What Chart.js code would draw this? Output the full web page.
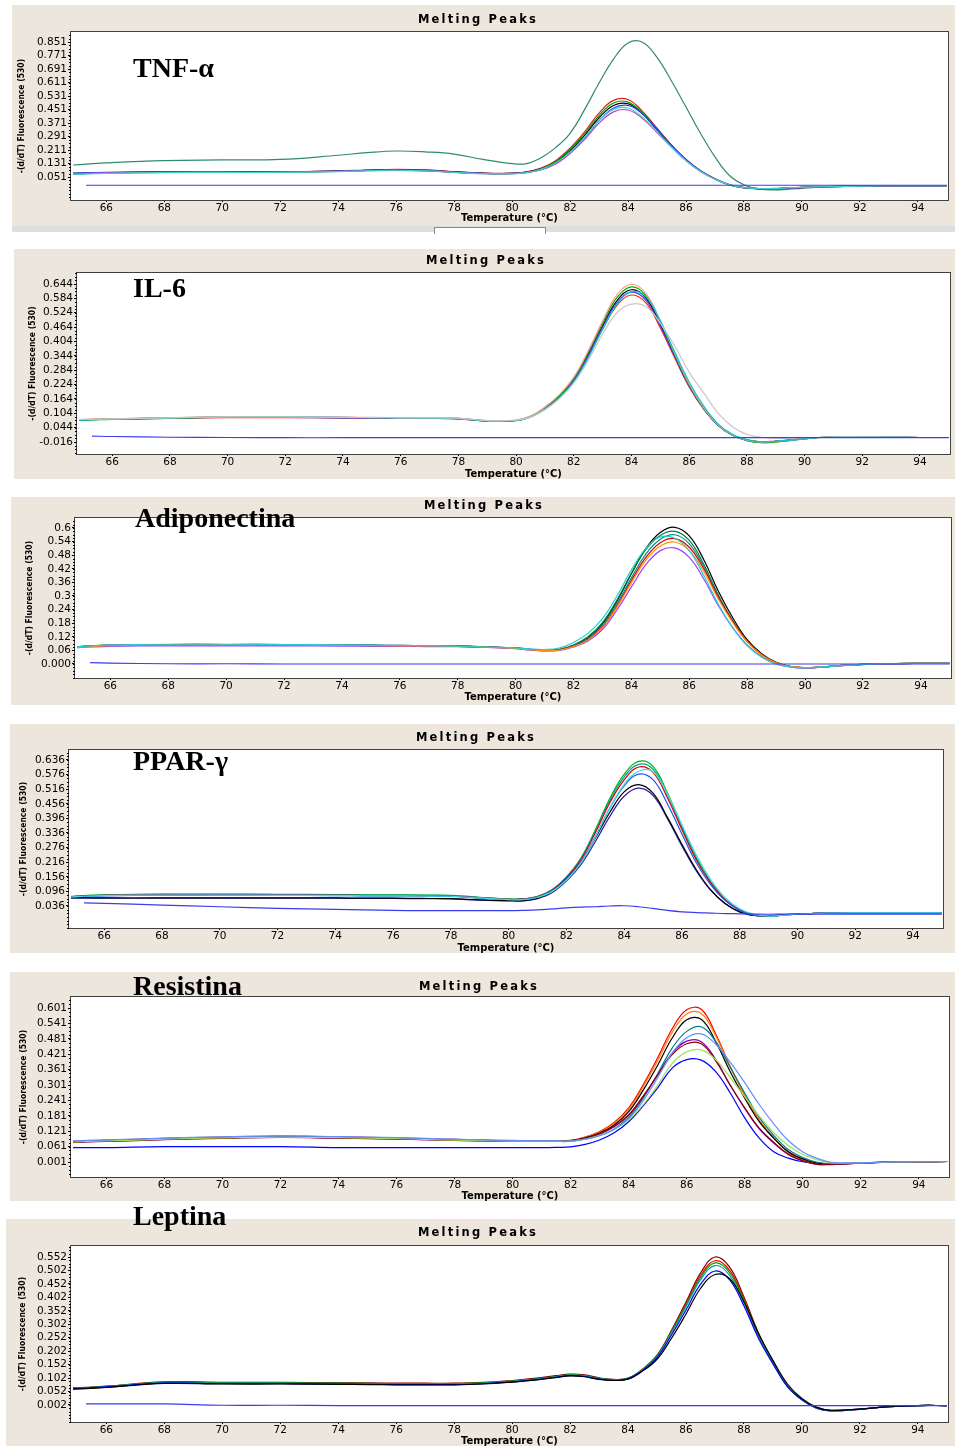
<!DOCTYPE html>
<html>
<head>
<meta charset="utf-8">
<script src="https://cdn.jsdelivr.net/npm/chart.js@4.4.1/dist/chart.umd.min.js"></script>
<style>
body { margin:0; background:#fff; width:956px; height:1446px; position:relative; overflow:hidden; }
.panel { position:absolute; background:#ECE6DC; }
.panel canvas { position:absolute; left:0; top:0; }
.title { position:absolute; font:bold 11.5px "DejaVu Sans"; letter-spacing:2.2px; line-height:11px; transform:translate(-50%,-50%); white-space:nowrap; color:#000; }
.gene { position:absolute; font:bold 28px "Liberation Serif"; line-height:28px; white-space:nowrap; color:#000; }
</style>
</head>
<body>
<script>
// temperature grid (°C) shared by all curves
const temps = [64.85,65.3,66,68,70,72,74,75,76,77,78,79,80,
  80.5,81,81.5,82,82.5,83,83.5,84,84.5,85,85.5,86,86.5,
  87,87.5,88,88.5,89,89.5,90,90.5,91,92,93,94,95];
const xTicks = [66,68,70,72,74,76,78,80,82,84,86,88,90,92,94];

// ---- TNF-alpha ----
const tnfTicks = ["0.051","0.131","0.211","0.291","0.371","0.451","0.531","0.611","0.691","0.771","0.851"];
const tnfA = [0.070,0.073,0.076,0.082,0.083,0.082,0.087,0.092,0.096,0.093,0.083,0.075,0.074,
  0.082,0.104,0.148,0.222,0.318,0.430,0.505,0.510,0.440,0.340,0.240,0.155,0.088,
  0.040,0.005,-0.013,-0.019,-0.019,-0.016,-0.012,-0.008,-0.006,-0.003,-0.001,0.000,0.000];
const tnfB = [0.068,0.071,0.074,0.079,0.080,0.080,0.085,0.090,0.093,0.090,0.080,0.072,0.071,
  0.079,0.100,0.142,0.214,0.307,0.415,0.490,0.495,0.430,0.333,0.236,0.152,0.086,
  0.039,0.004,-0.013,-0.019,-0.019,-0.015,-0.011,-0.008,-0.006,-0.003,-0.001,0.000,0.000];
const tnfC = [0.072,0.075,0.077,0.080,0.081,0.081,0.086,0.091,0.094,0.091,0.081,0.073,0.072,
  0.080,0.099,0.139,0.208,0.298,0.402,0.475,0.485,0.425,0.330,0.235,0.152,0.086,
  0.039,0.004,-0.012,-0.018,-0.018,-0.015,-0.011,-0.008,-0.006,-0.003,-0.001,0.000,0.000];
const tnfD = [0.074,0.076,0.078,0.081,0.082,0.082,0.086,0.090,0.092,0.089,0.080,0.073,0.072,
  0.078,0.094,0.130,0.195,0.282,0.385,0.460,0.475,0.425,0.335,0.240,0.155,0.088,
  0.040,0.005,-0.012,-0.018,-0.018,-0.015,-0.011,-0.008,-0.006,-0.003,-0.001,0.000,0.000];
const tnfE = [0.066,0.069,0.072,0.077,0.078,0.078,0.083,0.088,0.091,0.088,0.079,0.071,0.070,
  0.077,0.096,0.134,0.198,0.285,0.385,0.452,0.460,0.405,0.318,0.228,0.148,0.084,
  0.038,0.004,-0.012,-0.018,-0.018,-0.014,-0.011,-0.008,-0.006,-0.003,-0.001,0.000,0.000];
const tnfF = [0.071,0.073,0.075,0.078,0.079,0.079,0.084,0.088,0.090,0.087,0.078,0.071,0.071,
  0.077,0.094,0.128,0.190,0.273,0.370,0.437,0.448,0.398,0.315,0.228,0.148,0.085,
  0.039,0.005,-0.011,-0.017,-0.017,-0.014,-0.010,-0.007,-0.005,-0.002,-0.001,0.000,0.000];
const tnfHigh = [0.122,0.127,0.135,0.148,0.152,0.155,0.180,0.195,0.205,0.200,0.187,0.155,0.130,
  0.130,0.165,0.225,0.310,0.450,0.608,0.750,0.845,0.850,0.760,0.620,0.466,0.310,
  0.170,0.060,0.005,-0.020,-0.026,-0.022,-0.016,-0.010,-0.006,-0.002,0.000,0.000,0.000];
const tnfNeg = [null,0.002,0.002,0.002,0.002,0.002,0.002,0.002,0.002,0.002,0.002,0.002,0.002,
  0.002,0.002,0.002,0.002,0.002,0.002,0.002,0.002,0.002,0.002,0.002,0.002,0.002,
  0.002,0.002,0.002,0.002,0.002,0.002,0.002,0.002,0.002,0.002,0.002,0.002,0.002];

// ---- IL-6 ----
const ilTicks = ["-0.016","0.044","0.104","0.164","0.224","0.284","0.344","0.404","0.464","0.524","0.584","0.644"];
const ilA = [0.078,0.079,0.081,0.086,0.090,0.090,0.088,0.087,0.086,0.086,0.084,0.074,0.076,
  0.092,0.130,0.182,0.255,0.365,0.490,0.600,0.643,0.605,0.490,0.355,0.226,0.128,
  0.056,0.013,-0.008,-0.016,-0.013,-0.008,-0.002,0.003,0.005,0.005,0.004,0.003,0.003];
const ilB = [0.074,0.076,0.079,0.083,0.089,0.089,0.087,0.086,0.085,0.085,0.083,0.072,0.074,
  0.091,0.128,0.178,0.250,0.358,0.480,0.588,0.632,0.596,0.484,0.350,0.222,0.126,
  0.055,0.012,-0.010,-0.019,-0.017,-0.010,-0.003,0.003,0.005,0.005,0.004,0.003,0.003];
const ilC = [0.076,0.078,0.080,0.084,0.088,0.088,0.086,0.085,0.084,0.084,0.082,0.072,0.074,
  0.090,0.125,0.175,0.245,0.350,0.470,0.575,0.620,0.585,0.475,0.345,0.220,0.125,
  0.055,0.013,-0.008,-0.016,-0.013,-0.008,-0.002,0.003,0.005,0.005,0.004,0.003,0.003];
const ilD = [0.075,0.077,0.079,0.085,0.087,0.087,0.085,0.084,0.083,0.083,0.081,0.071,0.073,
  0.090,0.124,0.173,0.242,0.345,0.463,0.565,0.610,0.576,0.468,0.340,0.217,0.123,
  0.054,0.012,-0.009,-0.016,-0.013,-0.008,-0.002,0.003,0.005,0.005,0.004,0.003,0.003];
const ilE = [0.077,0.079,0.081,0.083,0.086,0.086,0.085,0.084,0.083,0.083,0.081,0.072,0.074,
  0.089,0.122,0.170,0.238,0.340,0.455,0.555,0.598,0.565,0.460,0.335,0.214,0.122,
  0.054,0.013,-0.007,-0.015,-0.012,-0.007,-0.001,0.003,0.005,0.005,0.004,0.003,0.003];
const ilF = [0.075,0.077,0.080,0.085,0.088,0.089,0.087,0.086,0.085,0.084,0.082,0.073,0.074,
  0.088,0.120,0.168,0.235,0.335,0.455,0.560,0.612,0.590,0.490,0.360,0.235,0.135,
  0.060,0.016,-0.006,-0.015,-0.013,-0.008,-0.002,0.003,0.005,0.005,0.004,0.003,0.003];
const ilGrey = [0.078,0.079,0.081,0.085,0.089,0.089,0.087,0.086,0.085,0.085,0.083,0.073,0.075,
  0.088,0.120,0.165,0.230,0.325,0.435,0.525,0.560,0.550,0.480,0.385,0.275,0.190,
  0.105,0.048,0.016,0.004,0.000,0.000,0.002,0.004,0.005,0.005,0.004,0.003,0.003];
const ilNeg = [null,0.009,0.007,0.004,0.003,0.002,0.002,0.002,0.002,0.002,0.002,0.002,0.002,
  0.002,0.002,0.002,0.002,0.002,0.002,0.002,0.002,0.002,0.002,0.002,0.002,0.002,
  0.002,0.002,0.002,0.002,0.002,0.002,0.002,0.002,0.002,0.002,0.002,0.002,0.002];

// ---- Adiponectina ----
const adTicks = ["0.000","0.06","0.12","0.18","0.24","0.3","0.36","0.42","0.48","0.54","0.6"];
const adA = [0.076,0.079,0.083,0.086,0.086,0.086,0.084,0.083,0.082,0.081,0.080,0.076,0.071,
  0.065,0.061,0.063,0.082,0.116,0.177,0.277,0.398,0.510,0.580,0.603,0.565,0.460,
  0.322,0.204,0.107,0.045,0.007,-0.011,-0.016,-0.014,-0.009,-0.002,0.002,0.003,0.003];
const adB = [0.074,0.078,0.082,0.085,0.085,0.085,0.083,0.082,0.081,0.080,0.079,0.075,0.070,
  0.065,0.061,0.064,0.084,0.120,0.182,0.282,0.400,0.505,0.567,0.585,0.545,0.440,
  0.305,0.190,0.100,0.040,0.005,-0.012,-0.017,-0.015,-0.009,-0.002,0.002,0.003,0.003];
const adC = [0.075,0.079,0.082,0.085,0.085,0.085,0.083,0.082,0.081,0.080,0.079,0.075,0.070,
  0.064,0.060,0.062,0.080,0.112,0.170,0.265,0.380,0.485,0.550,0.570,0.530,0.430,
  0.300,0.190,0.100,0.042,0.006,-0.011,-0.016,-0.014,-0.009,-0.002,0.002,0.003,0.003];
const adD = [0.077,0.080,0.083,0.084,0.084,0.084,0.082,0.081,0.080,0.079,0.078,0.074,0.069,
  0.063,0.059,0.062,0.078,0.108,0.163,0.256,0.368,0.470,0.535,0.553,0.515,0.420,
  0.295,0.188,0.100,0.042,0.006,-0.011,-0.016,-0.014,-0.009,-0.002,0.002,0.003,0.003];
const adE = [0.073,0.077,0.081,0.084,0.084,0.084,0.082,0.081,0.080,0.080,0.078,0.074,0.069,
  0.063,0.059,0.061,0.077,0.106,0.160,0.250,0.358,0.458,0.520,0.538,0.500,0.408,
  0.287,0.183,0.097,0.040,0.005,-0.012,-0.016,-0.014,-0.009,-0.002,0.002,0.003,0.003];
const adF = [0.072,0.075,0.078,0.080,0.080,0.080,0.079,0.078,0.078,0.077,0.076,0.073,0.068,
  0.062,0.058,0.060,0.075,0.102,0.152,0.238,0.340,0.438,0.500,0.512,0.470,0.375,
  0.258,0.160,0.083,0.032,0.000,-0.014,-0.018,-0.015,-0.010,-0.003,0.002,0.003,0.003];
const adG = [0.076,0.080,0.084,0.087,0.087,0.086,0.084,0.083,0.082,0.081,0.079,0.075,0.071,
  0.066,0.064,0.070,0.095,0.135,0.200,0.300,0.415,0.510,0.560,0.555,0.500,0.390,
  0.265,0.160,0.080,0.030,0.000,-0.013,-0.017,-0.014,-0.009,-0.002,0.002,0.003,0.003];
const adNeg = [null,0.006,0.004,0.001,0.001,0.000,0.000,0.000,0.000,0.000,0.000,0.000,0.000,
  0.000,0.000,0.000,0.000,0.000,0.000,0.000,0.000,0.000,0.000,0.000,0.000,0.000,
  0.000,0.000,0.000,0.000,0.000,0.000,0.000,0.000,0.000,0.000,0.000,0.000,0.000];

// ---- PPAR-gamma ----
const ppTicks = ["0.036","0.096","0.156","0.216","0.276","0.336","0.396","0.456","0.516","0.576","0.636"];
const ppA = [0.076,0.079,0.082,0.085,0.085,0.084,0.083,0.082,0.082,0.081,0.080,0.072,0.065,
  0.066,0.075,0.102,0.155,0.232,0.348,0.477,0.577,0.630,0.610,0.500,0.365,0.235,
  0.135,0.063,0.020,-0.002,-0.007,-0.002,0.002,0.005,0.007,0.008,0.008,0.008,0.008];
const ppB = [0.075,0.078,0.081,0.084,0.084,0.083,0.082,0.081,0.081,0.080,0.079,0.071,0.064,
  0.065,0.076,0.103,0.155,0.230,0.343,0.468,0.566,0.618,0.598,0.492,0.358,0.230,
  0.133,0.062,0.020,-0.001,-0.006,-0.001,0.002,0.005,0.007,0.008,0.008,0.008,0.008];
const ppC = [0.074,0.077,0.080,0.082,0.082,0.081,0.080,0.079,0.079,0.078,0.077,0.070,0.063,
  0.064,0.074,0.100,0.151,0.225,0.336,0.459,0.554,0.607,0.585,0.480,0.350,0.225,
  0.130,0.061,0.020,0.000,-0.005,0.000,0.003,0.005,0.007,0.008,0.008,0.008,0.008];
const ppD = [0.073,0.076,0.079,0.081,0.081,0.080,0.079,0.078,0.078,0.077,0.076,0.069,0.062,
  0.062,0.072,0.095,0.142,0.212,0.318,0.437,0.535,0.590,0.588,0.495,0.370,0.245,
  0.145,0.070,0.025,0.002,-0.006,-0.002,0.002,0.005,0.007,0.008,0.008,0.008,0.008];
const ppE = [0.072,0.075,0.078,0.080,0.081,0.080,0.079,0.078,0.078,0.077,0.075,0.068,0.062,
  0.063,0.072,0.097,0.145,0.215,0.320,0.437,0.530,0.578,0.555,0.455,0.332,0.213,
  0.123,0.058,0.018,0.000,-0.005,0.000,0.003,0.005,0.007,0.008,0.008,0.008,0.008];
const ppF = [0.070,0.070,0.069,0.069,0.069,0.069,0.069,0.068,0.068,0.067,0.066,0.061,0.058,
  0.058,0.068,0.095,0.145,0.215,0.315,0.420,0.505,0.535,0.500,0.400,0.290,0.185,
  0.102,0.046,0.012,-0.003,-0.006,-0.001,0.002,0.005,0.007,0.008,0.008,0.008,0.008];
const ppG = [0.068,0.068,0.068,0.068,0.068,0.068,0.068,0.067,0.067,0.066,0.065,0.060,0.057,
  0.057,0.066,0.090,0.138,0.205,0.300,0.403,0.487,0.520,0.490,0.395,0.283,0.180,
  0.100,0.045,0.012,-0.003,-0.006,-0.001,0.002,0.005,0.007,0.008,0.008,0.008,0.008];
const ppNeg = [null,0.049,0.047,0.040,0.033,0.026,0.022,0.020,0.018,0.017,0.017,0.017,0.017,
  0.018,0.020,0.024,0.028,0.031,0.033,0.036,0.037,0.033,0.026,0.018,0.012,0.009,
  0.007,0.005,0.004,0.003,0.002,0.003,0.003,0.003,0.003,0.003,0.003,0.003,0.003];

// ---- Resistina ----
const resTicks = ["0.001","0.061","0.121","0.181","0.241","0.301","0.361","0.421","0.481","0.541","0.601"];
const resA = [0.082,0.083,0.086,0.093,0.098,0.102,0.099,0.097,0.095,0.092,0.089,0.086,0.084,
  0.084,0.084,0.084,0.085,0.098,0.120,0.155,0.212,0.302,0.407,0.520,0.594,0.596,
  0.500,0.373,0.262,0.163,0.095,0.040,0.010,-0.006,-0.008,-0.003,0.001,0.002,0.003];
const resB = [0.079,0.081,0.083,0.090,0.095,0.099,0.096,0.094,0.092,0.089,0.086,0.084,0.082,
  0.082,0.082,0.083,0.084,0.097,0.118,0.151,0.206,0.294,0.396,0.506,0.578,0.580,
  0.492,0.370,0.260,0.163,0.096,0.042,0.012,-0.004,-0.007,-0.003,0.001,0.002,0.003];
const resC = [0.080,0.082,0.084,0.091,0.096,0.100,0.097,0.095,0.093,0.090,0.087,0.085,0.083,
  0.083,0.083,0.083,0.084,0.095,0.114,0.145,0.197,0.281,0.378,0.484,0.555,0.557,
  0.470,0.353,0.250,0.158,0.094,0.041,0.013,-0.003,-0.007,-0.003,0.001,0.002,0.003];
const resD = [0.081,0.083,0.085,0.092,0.097,0.101,0.098,0.096,0.094,0.091,0.088,0.085,0.083,
  0.083,0.083,0.083,0.083,0.090,0.105,0.130,0.175,0.250,0.345,0.445,0.510,0.528,
  0.470,0.370,0.270,0.175,0.105,0.050,0.018,0.000,-0.005,-0.003,0.001,0.002,0.003];
const resE = [0.078,0.080,0.082,0.089,0.094,0.098,0.095,0.093,0.091,0.088,0.085,0.083,0.082,
  0.082,0.082,0.082,0.082,0.092,0.110,0.138,0.183,0.255,0.340,0.425,0.472,0.470,
  0.400,0.300,0.210,0.130,0.075,0.030,0.005,-0.008,-0.008,-0.003,0.001,0.002,0.003];
const resF = [0.083,0.085,0.087,0.094,0.099,0.103,0.100,0.098,0.096,0.093,0.090,0.087,0.085,
  0.084,0.083,0.083,0.082,0.090,0.104,0.128,0.170,0.240,0.330,0.425,0.485,0.500,
  0.460,0.390,0.310,0.225,0.150,0.085,0.040,0.015,0.000,-0.002,0.001,0.002,0.003];
const resG = [0.079,0.081,0.083,0.090,0.095,0.098,0.096,0.094,0.092,0.089,0.086,0.084,0.082,
  0.082,0.082,0.082,0.082,0.090,0.105,0.128,0.165,0.225,0.300,0.385,0.430,0.438,
  0.400,0.330,0.255,0.180,0.115,0.065,0.030,0.010,-0.002,-0.002,0.001,0.002,0.003];
const resH = [0.077,0.079,0.081,0.088,0.093,0.097,0.094,0.092,0.090,0.088,0.085,0.083,0.081,
  0.081,0.081,0.081,0.082,0.093,0.112,0.140,0.185,0.258,0.340,0.420,0.462,0.462,
  0.395,0.300,0.212,0.133,0.078,0.032,0.006,-0.008,-0.009,-0.003,0.001,0.002,0.003];
const resLow = [0.057,0.057,0.057,0.061,0.061,0.061,0.057,0.057,0.057,0.057,0.057,0.057,0.057,
  0.057,0.057,0.058,0.060,0.070,0.087,0.115,0.158,0.220,0.290,0.367,0.400,0.398,
  0.353,0.270,0.173,0.094,0.041,0.016,0.002,-0.003,-0.005,-0.003,0.000,0.002,0.003];

// ---- Leptina ----
const lepTicks = ["0.002","0.052","0.102","0.152","0.202","0.252","0.302","0.352","0.402","0.452","0.502","0.552"];
const lepA = [0.066,0.068,0.072,0.088,0.086,0.086,0.085,0.084,0.083,0.083,0.083,0.086,0.093,
  0.098,0.104,0.111,0.117,0.114,0.103,0.097,0.102,0.135,0.187,0.280,0.385,0.492,
  0.552,0.515,0.403,0.270,0.165,0.073,0.021,-0.010,-0.020,-0.014,-0.004,0.000,0.000];
const lepB = [0.062,0.064,0.068,0.084,0.082,0.082,0.081,0.080,0.079,0.079,0.079,0.082,0.089,
  0.094,0.099,0.106,0.112,0.110,0.100,0.095,0.100,0.133,0.185,0.276,0.378,0.482,
  0.538,0.503,0.395,0.265,0.162,0.072,0.021,-0.010,-0.020,-0.014,-0.004,0.000,0.000];
const lepC = [0.065,0.067,0.071,0.086,0.084,0.084,0.083,0.082,0.081,0.081,0.081,0.084,0.091,
  0.096,0.101,0.108,0.114,0.111,0.101,0.096,0.101,0.133,0.184,0.274,0.373,0.475,
  0.530,0.495,0.390,0.262,0.160,0.071,0.021,-0.009,-0.019,-0.013,-0.004,0.000,0.000];
const lepD = [0.064,0.066,0.070,0.085,0.083,0.083,0.082,0.081,0.080,0.080,0.080,0.083,0.090,
  0.095,0.100,0.107,0.113,0.110,0.100,0.095,0.100,0.132,0.182,0.270,0.367,0.467,
  0.520,0.485,0.381,0.256,0.158,0.071,0.021,-0.009,-0.019,-0.013,-0.004,0.000,0.000];
const lepE = [0.063,0.065,0.069,0.083,0.081,0.081,0.080,0.079,0.078,0.078,0.078,0.081,0.088,
  0.093,0.098,0.105,0.111,0.108,0.098,0.094,0.099,0.130,0.178,0.262,0.355,0.450,
  0.500,0.468,0.370,0.250,0.155,0.070,0.022,-0.008,-0.018,-0.013,-0.004,0.000,0.000];
const lepF = [0.061,0.063,0.067,0.082,0.080,0.080,0.079,0.078,0.077,0.077,0.077,0.080,0.087,
  0.092,0.097,0.104,0.110,0.107,0.097,0.093,0.098,0.128,0.172,0.250,0.340,0.435,
  0.487,0.472,0.385,0.268,0.168,0.080,0.026,-0.006,-0.018,-0.013,-0.004,0.000,0.000];
const lepNeg = [null,0.006,0.006,0.006,0.001,0.001,0.000,0.000,0.000,0.000,0.000,0.000,0.000,
  0.000,0.000,0.000,0.000,0.000,0.000,0.000,0.000,0.000,0.000,0.000,0.000,0.000,
  0.000,0.000,0.000,0.000,0.000,0.000,0.000,0.000,0.000,0.000,0.000,0.000,0.000];

const negBlue = '#3c3cf0';

// panels: box = [left, top, width, height], plot = [left, top, right, bottom] in page px
const panels = [
  {box:[12,5,943,221], plot:[71,32,948,200], yMin:-0.0853, yMax:0.9103, yTicks:tnfTicks,
   yTitleX:22, xTitleY:218, head:[478,19], gene:'TNF-α', geneAt:[133,54],
   curves:[[tnfNeg,negBlue],[tnfE,'#40d0d0'],[tnfF,'#c040c0'],[tnfD,'#2040ff'],[tnfB,'#00a000'],[tnfC,'#000000'],[tnfA,'#e02020'],[tnfHigh,'#2e8b6e']]},
  {box:[14,249,941,230], plot:[77,273,950,454], yMin:-0.066, yMax:0.690, yTicks:ilTicks,
   yTitleX:33, xTitleY:474, head:[486,260], gene:'IL-6', geneAt:[133,274],
   curves:[[ilNeg,negBlue],[ilGrey,'#c8c8c8'],[ilF,'#00c8d8'],[ilA,'#ff9c8c'],[ilB,'#00b000'],[ilD,'#6030ff'],[ilC,'#000000'],[ilE,'#ff3000']]},
  {box:[11,497,944,208], plot:[75,518,951,678], yMin:-0.0618, yMax:0.644, yTicks:adTicks,
   yTitleX:30, xTitleY:697, head:[484,505], gene:'Adiponectina', geneAt:[135,504],
   curves:[[adNeg,negBlue],[adG,'#20d0d0'],[adE,'#ff9000'],[adF,'#a040ff'],[adD,'#e00000'],[adC,'#009090'],[adB,'#008040'],[adA,'#000000']]},
  {box:[10,724,945,229], plot:[69,750,943,928], yMin:-0.0544, yMax:0.677, yTicks:ppTicks,
   yTitleX:24, xTitleY:948, head:[476,737], gene:'PPAR-γ', geneAt:[133,747],
   curves:[[ppNeg,negBlue],[ppD,'#40e0e0'],[ppE,'#2050ff'],[ppC,'#e00000'],[ppB,'#00a0a0'],[ppA,'#00b000'],[ppF,'#000000'],[ppG,'#3020a0']]},
  {box:[10,972,945,229], plot:[71,997,949,1177], yMin:-0.0574, yMax:0.6439, yTicks:resTicks,
   yTitleX:24, xTitleY:1196, head:[479,986], gene:'Resistina', geneAt:[133,972],
   curves:[[resF,'#6090ff'],[resG,'#a0e060'],[resH,'#900000'],[resE,'#8000c0'],[resD,'#008080'],[resC,'#000000'],[resB,'#ff8000'],[resA,'#ff0000'],[resLow,'#0000ff']]},
  {box:[6,1219,949,227], plot:[71,1246,948,1422], yMin:-0.0612, yMax:0.5929, yTicks:lepTicks,
   yTitleX:23, xTitleY:1441, head:[478,1232], gene:'Leptina', geneAt:[133,1202],
   curves:[[lepNeg,negBlue],[lepF,'#000000'],[lepE,'#0000ff'],[lepD,'#00a0a0'],[lepC,'#00a000'],[lepB,'#ff0000'],[lepA,'#800000']]}
];

// white plot background and dark frame around it
const frame = {
  id: 'frame',
  beforeDraw(chart) {
    const a = chart.chartArea, ctx = chart.ctx;
    ctx.save();
    ctx.fillStyle = '#ffffff';
    ctx.fillRect(a.left, a.top, a.right - a.left, a.bottom - a.top);
    ctx.restore();
  },
  afterDraw(chart) {
    const a = chart.chartArea, ctx = chart.ctx;
    ctx.save();
    ctx.strokeStyle = '#404040';
    ctx.lineWidth = 1;
    ctx.strokeRect(a.left - 0.5, a.top - 0.5, a.right - a.left + 1, a.bottom - a.top + 1);
    ctx.restore();
  }
};

// small ticks between the labelled ones on y
const minorTicks = {
  id: 'minorTicks',
  afterDraw(chart) {
    const y = chart.scales.y, ctx = chart.ctx;
    const v0 = y.ticks[0].value, step = (y.ticks[1].value - v0) / 4;
    let v = v0 - Math.floor((v0 - y.min) / step) * step;
    ctx.save();
    ctx.strokeStyle = '#000';
    ctx.lineWidth = 1;
    ctx.beginPath();
    for (; v <= y.max; v += step) {
      const py = Math.round(y.getPixelForValue(v)) + 0.5;
      ctx.moveTo(y.right - 2, py);
      ctx.lineTo(y.right, py);
    }
    ctx.stroke();
    ctx.restore();
  }
};

function addText(cls, text, x, y) {
  const d = document.createElement('div');
  d.className = cls;
  d.textContent = text;
  d.style.left = x + 'px';
  d.style.top = y + 'px';
  document.body.appendChild(d);
}

function drawPanel(p) {
  const [bx, by, bw, bh] = p.box;
  const [pl, pt, pr, pb] = p.plot;
  const div = document.createElement('div');
  div.className = 'panel';
  div.style.left = bx + 'px';
  div.style.top = by + 'px';
  div.style.width = bw + 'px';
  div.style.height = bh + 'px';
  const cv = document.createElement('canvas');
  cv.width = bw;
  cv.height = bh;
  div.appendChild(cv);
  document.body.appendChild(div);

  const datasets = p.curves.map(c => ({
    data: temps.map((t, i) => ({x: t, y: c[0][i]})),
    borderColor: c[1],
    borderWidth: 1.2,
    pointRadius: 0,
    fill: false,
    tension: 0.4
  }));

  new Chart(cv, {
    type: 'line',
    data: {datasets: datasets},
    plugins: [frame, minorTicks],
    options: {
      responsive: false,
      animation: false,
      events: [],
      layout: {padding: {left: 0, top: pt - by, right: bx + bw - pr, bottom: 0}},
      plugins: {legend: {display: false}, tooltip: {enabled: false}},
      scales: {
        x: {
          type: 'linear', min: 64.78, max: 95.04,
          afterBuildTicks: s => { s.ticks = xTicks.map(v => ({value: v})); },
          afterFit: s => { s.height = by + bh - pb; },
          ticks: {autoSkip: false, maxRotation: 0, padding: 0, color: '#000',
                  font: {family: 'DejaVu Sans', size: 10.5}},
          grid: {display: true, drawOnChartArea: false, drawTicks: true, tickLength: 2, color: '#000'},
          border: {display: false},
          title: {display: true, text: 'Temperature (°C)', color: '#000',
                  font: {family: 'DejaVu Sans', size: 10, weight: 'bold', lineHeight: 1},
                  padding: {top: 0, bottom: Math.max(0, by + bh - p.xTitleY - 5)}}
        },
        y: {
          min: p.yMin, max: p.yMax,
          afterBuildTicks: s => { s.ticks = p.yTicks.map(l => ({value: parseFloat(l)})); },
          afterFit: s => { s.width = pl - bx; },
          ticks: {autoSkip: false, padding: 1, color: '#000',
                  font: {family: 'DejaVu Sans', size: 10.5},
                  callback: (v, i) => p.yTicks[i]},
          grid: {display: true, drawOnChartArea: false, drawTicks: true, tickLength: 3, color: '#000'},
          border: {display: false},
          title: {display: true, text: '-(d/dT) Fluorescence (530)', color: '#000',
                  font: {family: "'Liberation Sans Narrow', 'DejaVu Sans Condensed', 'Liberation Sans'", size: 8.5, weight: 'bold', lineHeight: 1},
                  padding: {top: p.yTitleX - bx - 4, bottom: 0}}
        }
      }
    }
  });

  addText('title', 'Melting Peaks', p.head[0], p.head[1]);
  addText('gene', p.gene, p.geneAt[0], p.geneAt[1]);
}

panels.forEach(drawPanel);

// grey strip with scroller under the first panel
const strip = document.createElement('div');
strip.style.cssText = 'position:absolute;left:12px;top:226px;width:943px;height:6px;background:#dedede';
document.body.appendChild(strip);
const scroller = document.createElement('div');
scroller.style.cssText = 'position:absolute;left:434px;top:227px;width:110px;height:6px;background:#fff;border:1px solid #8a8a8a;border-bottom:none';
document.body.appendChild(scroller);
</script>
</body>
</html>
